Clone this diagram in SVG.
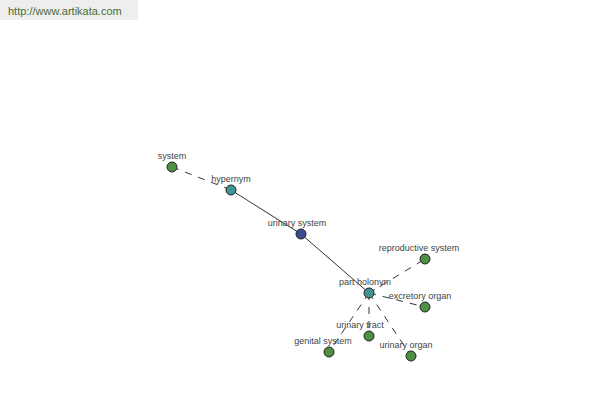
<svg xmlns="http://www.w3.org/2000/svg" width="600" height="400" viewBox="0 0 600 400">
<style>
.lbl{font-family:"Liberation Sans",Arial,sans-serif;font-size:9px;fill:#444;text-anchor:middle}
.e{stroke:#000;stroke-width:0.8;fill:none}
.d{stroke-dasharray:7 7}
.n{stroke:#222;stroke-width:1}
.g{fill:#4f8f45}
.t{fill:#3f9393}
.b{fill:#3d4a8c}
</style>
<rect x="0" y="0" width="138" height="20" fill="#eeeeee"/>
<text x="8" y="15" style="font-family:'Liberation Sans',Arial,sans-serif;font-size:11px;fill:#4a6a38">http://www.artikata.com</text>
<g id="connectors">
<line class="e d" x1="172" y1="167" x2="231" y2="190"/>
<line class="e" x1="231" y1="190" x2="301" y2="234"/>
<line class="e" x1="301" y1="234" x2="369" y2="293"/>
<line class="e d" x1="369" y1="293" x2="425" y2="259"/>
<line class="e d" x1="369" y1="293" x2="425" y2="307"/>
<line class="e d" x1="369" y1="293" x2="369" y2="336"/>
<line class="e d" x1="369" y1="293" x2="329" y2="352"/>
<line class="e d" x1="369" y1="293" x2="411" y2="356"/>
</g>
<g id="system"><circle class="n g" cx="172" cy="167" r="5"/><text class="lbl" x="172" y="159">system</text></g>
<g id="hypernym"><circle class="n t" cx="231" cy="190" r="5"/><text class="lbl" x="231" y="182">hypernym</text></g>
<g id="urinary-system"><circle class="n b" cx="301" cy="234" r="5"/><text class="lbl" x="297" y="226">urinary system</text></g>
<g id="part-holonym"><circle class="n t" cx="369" cy="293" r="5"/><text class="lbl" x="365" y="285">part holonym</text></g>
<g id="reproductive-system"><circle class="n g" cx="425" cy="259" r="5"/><text class="lbl" x="419" y="251">reproductive system</text></g>
<g id="excretory-organ"><circle class="n g" cx="425" cy="307" r="5"/><text class="lbl" x="420" y="299">excretory organ</text></g>
<g id="urinary-tract"><circle class="n g" cx="369" cy="336" r="5"/><text class="lbl" x="360" y="328">urinary tract</text></g>
<g id="genital-system"><circle class="n g" cx="329" cy="352" r="5"/><text class="lbl" x="323" y="344">genital system</text></g>
<g id="urinary-organ"><circle class="n g" cx="411" cy="356" r="5"/><text class="lbl" x="406" y="348">urinary organ</text></g>
</svg>
